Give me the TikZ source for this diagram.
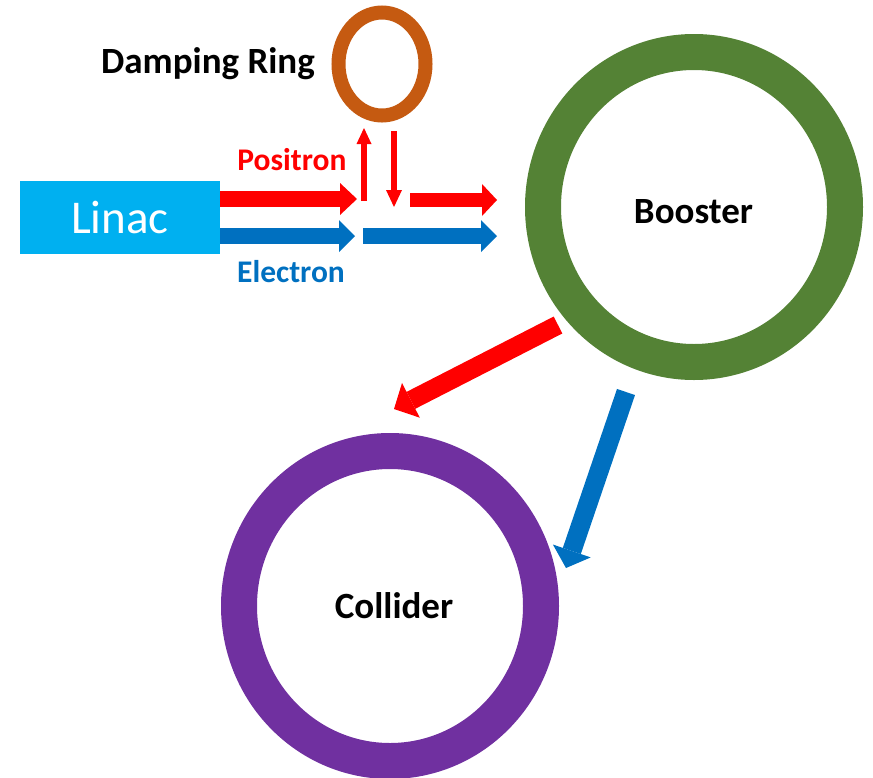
\documentclass[tikz,border=0pt]{standalone}
\usepackage{fontspec}
\setmainfont{Carlito}
\usetikzlibrary{arrows.meta,shapes.geometric}
\definecolor{cRed}{HTML}{FF0000}
\definecolor{cBlue}{HTML}{0070C0}
\definecolor{cCyan}{HTML}{00B0F0}
\definecolor{cGreen}{HTML}{548235}
\definecolor{cPurple}{HTML}{7030A0}
\definecolor{cOrange}{HTML}{C55A11}
\tikzset{
  barrow/.style n args={4}{draw=#1, line width=#2, -{Triangle[length=#3, width=#4, line width=0pt]}},
  ring/.style n args={5}{ellipse, draw=#1, line width=#2, minimum width=#3, minimum height=#4, inner sep=0pt},
  lbl/.style={anchor=base, inner sep=0pt, font=\fontsize{37}{41}\selectfont\bfseries},
  beamlbl/.style={anchor=base, inner sep=0pt, font=\fontsize{31.5}{36}\selectfont\bfseries},
}
\begin{document}
\begin{tikzpicture}[x=1pt,y=-1pt]
\useasboundingbox (0,0) rectangle (873,777);
% nodes
\node[fill=cCyan, minimum width=200pt, minimum height=73pt, inner sep=0pt, text=white, font=\fontsize{47}{51}\selectfont] (linac) at (120,217.5) {Linac};
\node[ring={cOrange}{14pt}{87pt}{103pt}{}] (damp) at (382,64) {};
\node[ring={cGreen}{36pt}{302pt}{310pt}{}] (booster) at (694,207) {};
\node[ring={cPurple}{36pt}{302pt}{310pt}{}] (collider) at (390,606) {};
% labels
\node[lbl] (dampl) at (208,73) {Damping Ring};
\node[lbl] (boostl) at (693.5,223) {Booster};
\node[lbl] (collil) at (394,618) {Collider};
\node[beamlbl, text=cRed] (posl) at (292,170) {Positron};
\node[beamlbl, text=cBlue] (elel) at (291,282) {Electron};
% coordinates
\coordinate (r1s) at (linac.east |- 0,199);
\coordinate (r1e) at (357,199);
\coordinate (b1s) at (linac.east |- 0,236);
\coordinate (b1e) at (355,236);
\coordinate (ups) at (364,201);
\coordinate (upe) at (364,128);
\coordinate (dns) at (394,131);
\coordinate (dne) at (394,207);
\coordinate (r2s) at (410,200);
\coordinate (r2e) at (497,200);
\coordinate (b2s) at (363,236);
\coordinate (b2e) at (497,236);
\coordinate (rds) at (558,325);
\coordinate (rde) at (394,409);
\coordinate (bds) at (626,392);
\coordinate (bde) at (566,568);
% arrows
\draw[barrow={cRed}{16pt}{17pt}{32pt}] (r1s) -- (r1e);
\draw[barrow={cBlue}{16pt}{16pt}{32pt}] (b1s) -- (b1e);
\draw[barrow={cRed}{6pt}{16pt}{15pt}] (ups) -- (upe);
\draw[barrow={cRed}{6pt}{17pt}{16pt}] (dns) -- (dne);
\draw[barrow={cRed}{14pt}{15pt}{32pt}] (r2s) -- (r2e);
\draw[barrow={cBlue}{16pt}{16pt}{32pt}] (b2s) -- (b2e);
\draw[barrow={cRed}{19pt}{19pt}{39pt}] (rds) -- (rde);
\draw[barrow={cBlue}{19pt}{18pt}{40pt}] (bds) -- (bde);
\end{tikzpicture}
\end{document}
